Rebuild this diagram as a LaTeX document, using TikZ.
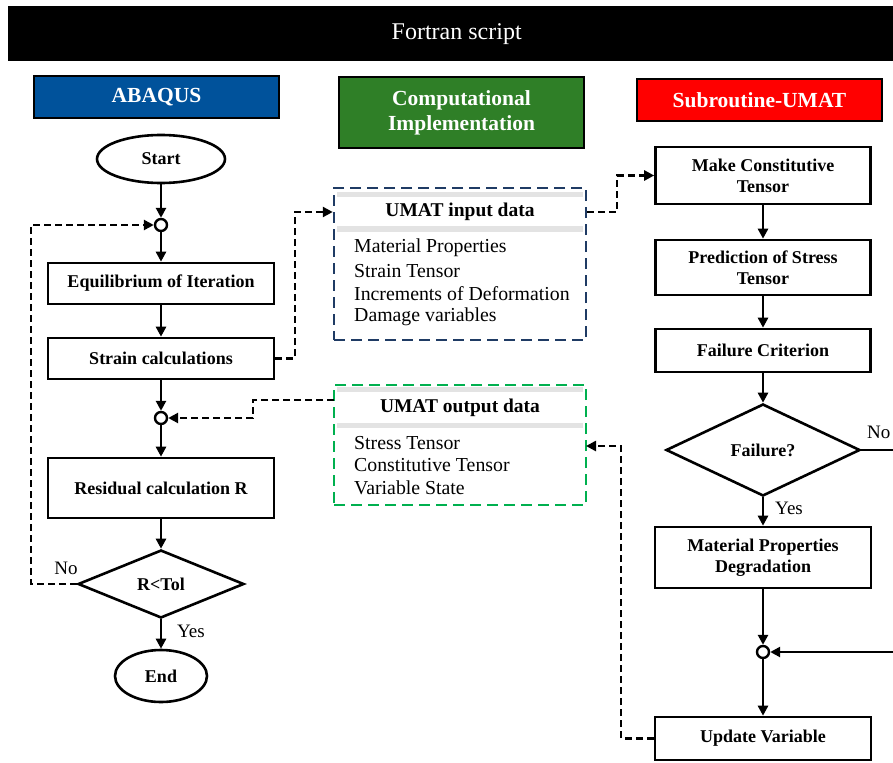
\documentclass[tikz,border=0pt]{standalone}
\usepackage{fontspec}
\setmainfont{Liberation Serif}
\usetikzlibrary{shapes.geometric,arrows.meta}
\definecolor{abqblue}{HTML}{00529B}
\definecolor{cgreen}{HTML}{2F7F27}
\definecolor{navyd}{HTML}{1F3B64}
\definecolor{greend}{HTML}{00B04F}
\definecolor{bandgray}{HTML}{E3E3E3}
\begin{document}
\begin{tikzpicture}[x=1pt,y=-1pt,
 box/.style={draw, line width=2.6pt, align=center, inner sep=1pt, font=\bfseries\fontsize{18}{21}\selectfont},
 hdr/.style={draw=black, line width=2pt, text=white, align=center, font=\bfseries\fontsize{21.5}{25}\selectfont, minimum width=245pt},
 term/.style={ellipse, draw, line width=2.6pt, font=\bfseries\fontsize{18}{21}\selectfont, inner sep=0pt},
 jn/.style={circle, draw, line width=2.4pt, minimum size=12pt, inner sep=0pt, fill=white},
 dec/.style={diamond, draw, line width=2.6pt, inner sep=0pt, font=\bfseries\fontsize{18}{21}\selectfont},
 arr/.style={line width=2.5pt, -{Triangle[length=10pt,width=10pt]}},
 darr/.style={arr, dash pattern=on 7pt off 4pt},
 dframe/.style={line width=2.5pt, dash pattern=on 11pt off 6pt, minimum width=252pt},
 lbl/.style={font=\fontsize{19}{22}\selectfont, inner sep=0pt},
 itemtxt/.style={anchor=west, font=\fontsize{19.8}{22}\selectfont, inner sep=0pt},
 dtitle/.style={font=\bfseries\fontsize{19.5}{22}\selectfont, inner sep=0pt},
]
\useasboundingbox (0,0) rectangle (893,762);
% banner
\node[fill=black, text=white, minimum width=897pt, minimum height=55pt, anchor=north west, font=\fontsize{24}{28}\selectfont] (banner) at (8,6) {Fortran script};
% headers
\node[hdr, fill=abqblue, minimum height=42pt] (abq) at (156.5,97) {ABAQUS};
\node[hdr, fill=cgreen, minimum height=71pt] (comp) at (461.5,112.5) {Computational\\Implementation};
\node[hdr, fill=red, minimum height=42pt] (sub) at (759.5,100) {Subroutine-UMAT};
% left column
\node[term, minimum width=128pt, minimum height=48pt] (start) at (161,159) {Start};
\node[jn] (c1) at (161,225) {};
\node[box, minimum width=226pt, minimum height=41pt] (eq) at (161,283.5) {Equilibrium of Iteration};
\node[box, minimum width=226pt, minimum height=41pt] (strain) at (161,358.5) {Strain calculations};
\node[jn] (c2) at (161,418) {};
\node[box, minimum width=226pt, minimum height=60pt] (resid) at (161,488) {Residual calculation R};
\node[dec, minimum width=166pt, minimum height=68pt] (tol) at (161,584) {R<Tol};
\node[term, minimum width=92pt, minimum height=52pt] (stop) at (161,676) {End};
\draw[arr] (start) -- (c1);
\draw[arr] (c1) -- (eq);
\draw[arr] (eq) -- (strain);
\draw[arr] (strain) -- (c2);
\draw[arr] (c2) -- (resid);
\draw[arr] (resid) -- (tol);
\draw[arr] (tol) -- (stop);
\draw[darr] (tol.west) -- (31,584) |- (c1.west);
\node[lbl] (nolbl) at (66,568) {No};
\node[lbl] (yeslbl) at (191,631) {Yes};
% UMAT input data
\node[dframe, draw=navyd, minimum height=152pt] (inbox) at (460,264) {};
\fill[bandgray] (337,192) rectangle (583,197);
\fill[bandgray] (337,226) rectangle (583,232);
\node[dtitle] (intitle) at (460,212) {UMAT input data};
\node[itemtxt] (in1) at (354,248) {Material Properties};
\node[itemtxt] (in2) at (354,271) {Strain Tensor};
\node[itemtxt] (in3) at (354,294) {Increments of Deformation};
\node[itemtxt] (in4) at (354,317) {Damage variables};
% UMAT output data
\node[dframe, draw=greend, minimum height=120pt] (outbox) at (460,445) {};
\fill[bandgray] (337,387) rectangle (583,392);
\fill[bandgray] (337,423) rectangle (583,428);
\node[dtitle] (outtitle) at (460,408) {UMAT output data};
\node[itemtxt] (out1) at (354,443) {Stress Tensor};
\node[itemtxt] (out2) at (354,465) {Constitutive Tensor};
\node[itemtxt] (out3) at (354,488) {Variable State};
% right column
\node[box, minimum width=215pt, minimum height=57pt] (mct) at (763,175.5) {Make Constitutive\\Tensor};
\node[box, minimum width=215pt, minimum height=55pt] (pred) at (763,267.5) {Prediction of Stress\\Tensor};
\node[box, minimum width=215pt, minimum height=43pt] (fc) at (763,350.5) {Failure Criterion};
\node[dec, minimum width=194pt, minimum height=92pt] (fail) at (763,450) {Failure?};
\node[box, minimum width=216pt, minimum height=61pt] (mpd) at (763,557.5) {Material Properties\\Degradation};
\node[jn] (c3) at (763,652) {};
\node[box, minimum width=216pt, minimum height=43pt] (upd) at (763,738.5) {Update Variable};
\draw[arr] (mct) -- (pred);
\draw[arr] (pred) -- (fc);
\draw[arr] (fc) -- (fail);
\draw[arr] (fail) -- (mpd);
\draw[arr] (mpd) -- (c3);
\draw[arr] (c3) -- (upd);
\coordinate (rOut) at (905,450);
\coordinate (rIn) at (905,652);
\draw[line width=2.5pt] (fail.east) -- (rOut);
\draw[arr] (rIn) -- (c3.east);
\node[lbl, anchor=west] (nolbl2) at (867,432) {No};
\node[lbl] (yeslbl2) at (789,508) {Yes};
% dashed data connectors
\coordinate (oL) at (334,400);
\coordinate (oR) at (586,446);
\draw[darr] (strain.east) -- (295,358.5) |- (intitle -| inbox.west);
\draw[darr] (intitle -| inbox.east) -- (617,212) |- (mct.west);
\draw[darr] (oL) -- (253,400) |- (c2.east);
\draw[darr] (upd.west) -- (621,738.5) |- (oR);
\end{tikzpicture}
\end{document}
